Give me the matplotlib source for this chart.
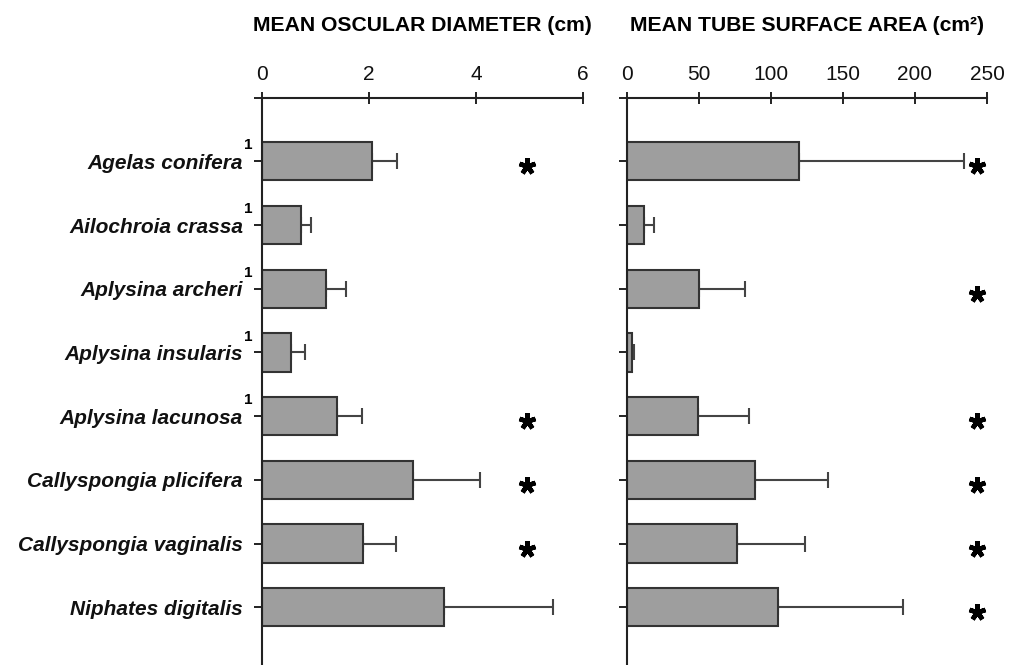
import matplotlib.pyplot as plt
import numpy as np

species = [
    "Agelas conifera",
    "Ailochroia crassa",
    "Aplysina archeri",
    "Aplysina insularis",
    "Aplysina lacunosa",
    "Callyspongia plicifera",
    "Callyspongia vaginalis",
    "Niphates digitalis",
]
footnote = [True, True, True, True, True, False, False, False]

# mean osculum diameter (cm) and upper error
osc_mean = [2.06, 0.72, 1.19, 0.54, 1.39, 2.82, 1.88, 3.40]
osc_err = [0.46, 0.19, 0.38, 0.26, 0.48, 1.25, 0.62, 2.04]
osc_sig = [True, False, False, False, True, True, True, False]

# mean tube surface area (cm^2) and upper error
area_mean = [119.6, 11.8, 50.5, 3.5, 49.8, 89.0, 76.6, 105.2]
area_err = [114.4, 6.9, 31.5, 1.4, 35.2, 51.0, 47.2, 86.8]
area_sig = [True, False, True, False, True, True, True, True]

plt.rcParams["font.family"] = ["Liberation Sans", "DejaVu Sans"]

fig = plt.figure(figsize=(10.19, 6.65), dpi=100)
ax1 = fig.add_axes([0.2574, 0.0, 0.3144, 0.8531])
ax2 = fig.add_axes([0.6150, 0.0, 0.3536, 0.8531])

pos = np.arange(1, len(species) + 1)


def draw_panel(ax, means, errs, sig, xmax, ticks, title, star_x):
    ax.barh(pos, means, height=0.6, color="#9e9e9e", edgecolor="#333333",
            linewidth=1.5, zorder=2)
    ax.errorbar(means, pos, xerr=[np.zeros(len(errs)), errs], fmt="none",
                ecolor="#444444", elinewidth=1.5, capsize=6, capthick=1.5,
                zorder=1)
    for p, s in zip(pos, sig):
        if s:
            ax.plot(star_x, p + 0.08, marker=(5, 2, 0), markersize=12,
                    markeredgewidth=3.3, color="black", clip_on=False)
    ax.set_xlim(0, xmax)
    ax.set_ylim(8.906, 0)
    ax.xaxis.set_ticks_position("top")
    ax.set_xticks(ticks)
    ax.tick_params(axis="x", direction="inout", length=9, width=1.3,
                   labelsize=15, pad=5, colors="#111111")
    ax.tick_params(axis="y", direction="out", length=5.8, width=1.3,
                   colors="#111111")
    for side in ("bottom", "right"):
        ax.spines[side].set_visible(False)
    for side in ("top", "left"):
        ax.spines[side].set_linewidth(1.5)
        ax.spines[side].set_color("#222222")
    ax.set_title(title, fontsize=15.2, fontweight="bold", pad=48)


draw_panel(ax1, osc_mean, osc_err, osc_sig, 6, [0, 2, 4, 6],
           "MEAN OSCULAR DIAMETER (cm)", 4.95)
draw_panel(ax2, area_mean, area_err, area_sig, 250, [0, 50, 100, 150, 200, 250],
           "MEAN TUBE SURFACE AREA (cm\u00b2)", 243)

ax1.set_yticks(np.concatenate([[0], pos]))
ax1.set_yticklabels([""] + species, fontsize=15, fontweight="bold",
                    style="italic")
ax1.tick_params(axis="y", pad=8)
ax2.set_yticks(np.concatenate([[0], pos]))
ax2.set_yticklabels([])

# footnote markers next to the species names
for p, f in zip(pos, footnote):
    if f:
        ax1.annotate("1", xy=(0, p), xycoords=("axes fraction", "data"),
                     xytext=(-13, 11.5), textcoords="offset points",
                     fontsize=11, fontweight="bold", ha="left", va="center")

fig.savefig("out.png", dpi=100)
